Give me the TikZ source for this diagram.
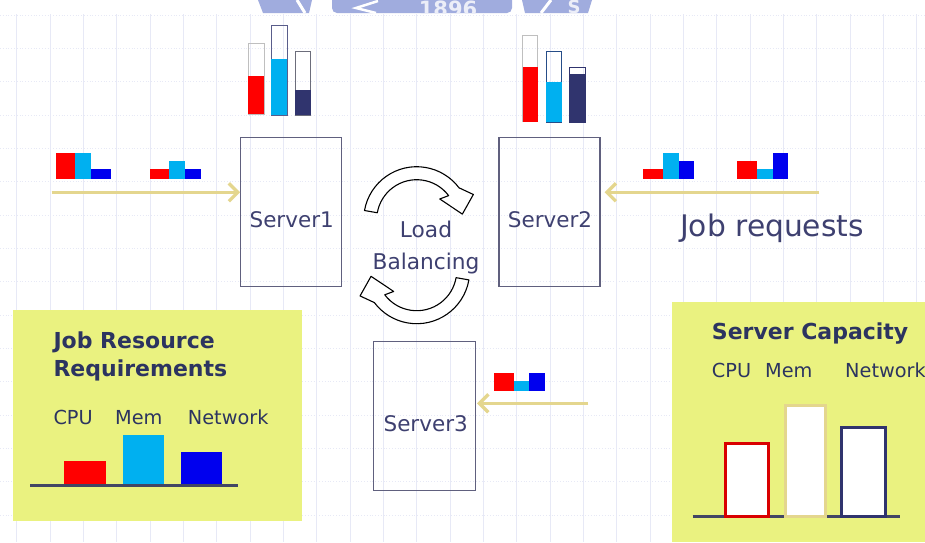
\documentclass[tikz,border=0pt]{standalone}
\usepackage{fontspec}
\setmainfont{DejaVu Sans}
\usetikzlibrary{arrows.meta,calc}

\definecolor{gridc}{RGB}{231,233,246}
\definecolor{labelc}{RGB}{62,64,112}
\definecolor{titlec}{RGB}{44,52,96}
\definecolor{boxc}{RGB}{96,96,126}
\definecolor{reqc}{RGB}{228,214,142}
\definecolor{cpuc}{RGB}{255,0,0}
\definecolor{memc}{RGB}{0,176,240}
\definecolor{netc}{RGB}{0,0,238}
\definecolor{navyc}{RGB}{48,52,110}
\definecolor{axisc}{RGB}{66,70,100}
\definecolor{panelc}{RGB}{234,242,128}
\definecolor{wmc}{RGB}{160,172,222}

\begin{document}
\begin{tikzpicture}[x=1pt,y=-1pt,
  server/.style={draw=boxc, line width=1.1pt, minimum width=101pt,
    minimum height=149pt, inner sep=0pt},
  srvlabel/.style={text=labelc, inner sep=0pt,
    font=\fontsize{21.5}{24}\selectfont},
  jobarrow/.style={draw=reqc, line width=3.3pt,
    -{Straight Barb[length=9pt,width=18pt]}},
  lbarrow/.style={draw=black, fill=white, line width=1.1pt, line join=round},
  paneltitle/.style={text=titlec, inner sep=0pt, align=left,
    font=\fontsize{22}{27.6}\selectfont\bfseries},
  axislabel/.style={text=titlec, inner sep=0pt,
    font=\fontsize{19.3}{22}\selectfont},
  gauge/.style={line width=1pt},
  capbar/.style={fill=white, line width=3pt},
  axis/.style={draw=axisc, line width=3pt}
]
\useasboundingbox (0,0) rectangle (925,542);
\fill[white] (0,0) rectangle (925,542);

% graph-paper background
\foreach \k in {0,...,27}
  \draw[gridc, line width=0.5pt] (16.7+33.333*\k,14) -- (16.7+33.333*\k,542);
\foreach \k in {0,...,15}
  \draw[gridc, line width=0.8pt, dotted] (0,15+33.333*\k) -- (925,15+33.333*\k);

% seal at the top edge
\begin{scope}
  \clip (0,0) rectangle (925,13);
  \fill[wmc] (258,0) -- (312,0) -- (309,13) -- (263,13) -- cycle;
  \draw[white, line width=3pt] (297,0) -- (305,13);
  \fill[wmc, rounded corners=5pt] (332,-10) rectangle (512,13);
  \draw[white, line width=2.5pt] (378,1) -- (356,8) -- (376,13);
  \node[anchor=base, text=white!80!wmc, inner sep=0pt,
    font=\fontsize{21}{21}\selectfont\bfseries] (seal) at (448,16) {1896};
  \fill[wmc] (522,0) -- (592,0) -- (588,13) -- (525,13) -- cycle;
  \draw[white, line width=3pt] (551,0) -- (541,13);
  \node[anchor=base, text=white!80!wmc, inner sep=0pt,
    font=\fontsize{18}{18}\selectfont\bfseries] (sealS) at (574,13) {S};
\end{scope}

% servers
\node[server] (s1) at (291.2,212) {};
\node[srvlabel] (s1l) at (291.7,220) {Server1};
\node[server] (s2) at (549.5,212) {};
\node[srvlabel] (s2l) at (550,219.3) {Server2};
\node[server, minimum width=102pt] (s3) at (424.5,416.2) {};
\node[srvlabel] (s3l) at (425.7,423.3) {Server3};

% resource gauges of Server1
\draw[gauge, draw=gray!50] (248.3,43.3) rectangle (264,114.3);
\fill[cpuc] (248.3,75.7) rectangle (264,114.3);
\draw[gauge, draw=navyc!80] (271,25) rectangle (287.3,115);
\fill[memc] (271,59) rectangle (287.3,115);
\draw[gauge, draw=gray!75!navyc] (295,51) rectangle (310.7,115);
\fill[navyc] (295,90) rectangle (310.7,115);

% resource gauges of Server2
\draw[gauge, draw=gray!50] (522.7,35.7) rectangle (537.7,121.7);
\fill[cpuc] (522.7,67.3) rectangle (537.7,121.7);
\draw[gauge, draw=navyc!80!memc] (546,51) rectangle (561.7,122.3);
\fill[memc] (546,82.3) rectangle (561.7,122.3);
\draw[gauge, draw=navyc] (569.3,67.3) rectangle (585,122.3);
\fill[navyc] (569.3,74.3) rectangle (585,122.3);

% incoming jobs for Server1
\fill[cpuc] (56,153.3) rectangle (75,179);
\fill[memc] (75,153.3) rectangle (91,179);
\fill[netc] (91,169) rectangle (110.7,179);
\fill[cpuc] (150,169) rectangle (169.3,179);
\fill[memc] (169.3,161) rectangle (185,179);
\fill[netc] (185,169) rectangle (200.7,179);
\coordinate (q1) at (51.7,192.3);
\draw[jobarrow] (q1) -- (q1 -| s1.west);

% incoming jobs for Server2
\fill[cpuc] (643.3,169) rectangle (662.7,179);
\fill[memc] (662.7,153.3) rectangle (678.7,179);
\fill[netc] (678.7,161) rectangle (694,179);
\fill[cpuc] (737.3,161) rectangle (756.7,179);
\fill[memc] (756.7,169) rectangle (772.7,179);
\fill[netc] (772.7,153.3) rectangle (788.3,179);
\coordinate (q2) at (819.3,192.3);
\draw[jobarrow] (q2) -- ($(q2 -| s2.east)+(4,0)$);
\node[anchor=base west, inner sep=0pt, text=labelc,
  font=\fontsize{29.7}{32}\selectfont] (jr) at (680,236) {Job requests};

% incoming job for Server3
\fill[cpuc] (494.3,372.7) rectangle (514,390.7);
\fill[memc] (514,380.7) rectangle (529.3,390.7);
\fill[netc] (529.3,372.7) rectangle (545.3,390.7);
\coordinate (q3) at (588.3,403.3);
\draw[jobarrow] (q3) -- ($(q3 -| s3.east)+(1,0)$);

% load balancing cycle
\begin{scope}[shift={(416.7,219.7)}]
  \draw[lbarrow] (-170:53) arc[start angle=-170, end angle=-37, radius=53]
    -- (-24:62) -- (-7:46) -- (-42:31) -- (-37:40)
    arc[start angle=-37, end angle=-170, radius=40] -- cycle;
\end{scope}
\begin{scope}[rotate around={180:(416.7,245.2)}, shift={(416.7,219.7)}]
  \draw[lbarrow] (-170:53) arc[start angle=-170, end angle=-37, radius=53]
    -- (-24:62) -- (-7:46) -- (-42:31) -- (-37:40)
    arc[start angle=-37, end angle=-170, radius=40] -- cycle;
\end{scope}
\node[srvlabel, align=center, font=\fontsize{21.7}{31.6}\selectfont]
  (lb) at (426,247.5) {Load\\Balancing};

% legend: job resource requirements
\node[fill=panelc, minimum width=288.4pt, minimum height=210.7pt, inner sep=0pt]
  (pl) at (157.5,415.35) {};
\node[paneltitle, anchor=north west] (plt) at (53.3,331.7) {Job Resource\\Requirements};
\node[axislabel, anchor=base west] (plc) at (53.3,424) {CPU};
\node[axislabel, anchor=base west] (plm) at (115,424) {Mem};
\node[axislabel, anchor=base west] (pln) at (187.7,424) {Network};
\fill[cpuc] (64,460.7) rectangle (106,485);
\fill[memc] (122.7,435) rectangle (164.3,485);
\fill[netc] (181,451.7) rectangle (222.3,485);
\draw[axis] (30,485) -- (238.3,485);

% legend: server capacity
\node[fill=panelc, minimum width=253.3pt, minimum height=240.3pt, inner sep=0pt]
  (pr) at (798.35,421.85) {};
\node[paneltitle, anchor=base west] (prt) at (711.7,339) {Server Capacity};
\node[axislabel, anchor=base west] (prc) at (711.7,377) {CPU};
\node[axislabel, anchor=base west] (prm) at (765,377) {Mem};
\node[axislabel, anchor=base west] (prn) at (845,377) {Network};
\draw[axis] (692.7,516.7) -- (900,516.7);
\draw[capbar, draw=cpuc!85!black] (725.7,443.3) rectangle (768.3,516.7);
\draw[capbar, draw=reqc] (785,405) rectangle (825.7,516.7);
\draw[capbar, draw=navyc] (841.7,427.3) rectangle (885,516.7);
\end{tikzpicture}
\end{document}
